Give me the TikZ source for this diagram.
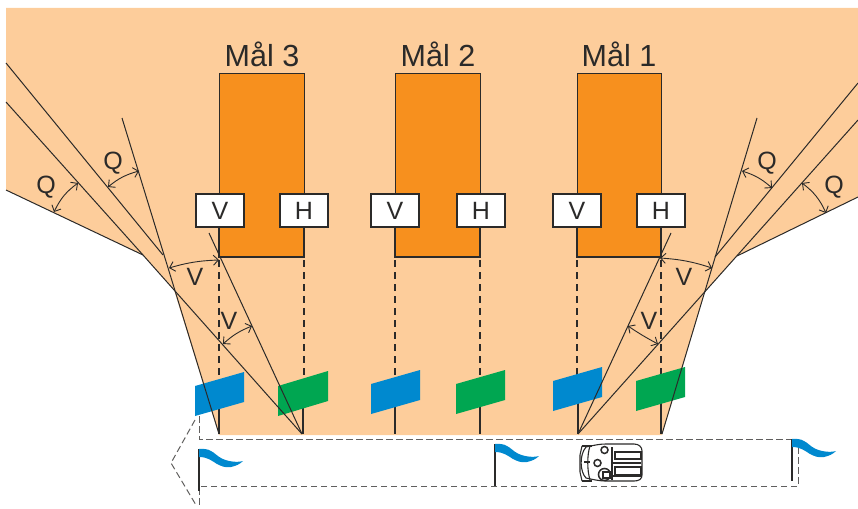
\documentclass[tikz,border=0pt]{standalone}
\usepackage{fontspec}
\setmainfont{Liberation Sans}
\usetikzlibrary{arrows.meta}
\definecolor{peach}{HTML}{FDCD9B}
\definecolor{orng}{HTML}{F7901E}
\definecolor{blu}{HTML}{0089CF}
\definecolor{grn}{HTML}{00A651}
\definecolor{ink}{HTML}{2B2A29}
\tikzset{
  x=1pt,y=-1pt,
  goal/.style={draw=ink,line width=1.4pt,fill=orng},
  tagbox/.style={draw=ink,line width=1.4pt,fill=white,minimum width=48pt,minimum height=33pt,inner sep=0pt,text=ink,font=\fontsize{25}{25}\selectfont},
  title/.style={text=ink,inner sep=0pt,font=\fontsize{30.5}{30.5}\selectfont},
  letter/.style={text=ink,inner sep=0pt,font=\fontsize{25}{25}\selectfont},
  ray/.style={draw=ink,line width=1pt},
  angle/.style={draw=ink,line width=0.9pt,{Straight Barb[length=5pt,width=10pt]}-{Straight Barb[length=5pt,width=10pt]}},
  post/.style={draw=ink,line width=2.6pt},
  guide/.style={draw=ink,line width=1.4pt,dash pattern=on 7pt off 5pt},
  track/.style={draw=ink!75,line width=1pt,dash pattern=on 6.5pt off 3.5pt},
  pole/.style={draw=ink,line width=1.3pt},
  car/.style={draw=ink,line width=1.1pt},
}
\newcommand{\pennant}[2]{%
  \fill[blu,shift={(#1,#2)}] (0,0) .. controls (4,-0.5) and (9,0) .. (12,2)
    .. controls (16,4) and (18,7) .. (22,9)
    .. controls (27,12) and (37,14) .. (44,12)
    .. controls (41,15) and (37,17) .. (32,18)
    .. controls (26,19) and (22,17) .. (18,15)
    .. controls (13,12) and (9,8) .. (0,8) -- cycle;}
\begin{document}
\begin{tikzpicture}
\useasboundingbox (0,0) rectangle (858,508);
% field
\fill[peach] (6,8) -- (858,8) -- (858,197) -- (737,256) -- (705,291.5) -- (662,435) -- (219,435) -- (174,290) -- (143,255) -- (6,190) -- cycle;
% coordinates
\coordinate (lb) at (219,434);
\coordinate (lg) at (302,434);
\coordinate (rb) at (578,434);
\coordinate (rg) at (662,434);
\coordinate (a1) at (6,63);   \coordinate (a2) at (163,255);
\coordinate (b1) at (6,102);
\coordinate (c1) at (122,118);
\coordinate (d1) at (209,233);
\coordinate (e0) at (6,190);  \coordinate (e1) at (143,255);
\coordinate (ra1) at (858,83);  \coordinate (ra2) at (715,257);
\coordinate (rb1) at (858,120);
\coordinate (rc1) at (757,118);
\coordinate (rd1) at (671,233);
\coordinate (re0) at (858,197); \coordinate (re1) at (737,256);
% goals
\node[goal,minimum width=85pt,minimum height=184pt,inner sep=0pt,anchor=north west] (g3) at (219,73) {};
\node[goal,minimum width=85pt,minimum height=184pt,inner sep=0pt,anchor=north west] (g2) at (395,73) {};
\node[goal,minimum width=84pt,minimum height=184pt,inner sep=0pt,anchor=north west] (g1) at (577,73) {};
\draw[post] (219,227) -- (219,257) -- (304,257) -- (304,227);
\draw[post] (395,227) -- (395,257) -- (480,257) -- (480,227);
\draw[post] (577,227) -- (577,257) -- (661,257) -- (661,227);
\node[title] (t3) at (262,54) {Mål 3};
\node[title] (t2) at (438,54) {Mål 2};
\node[title] (t1) at (619,54) {Mål 1};
\node[tagbox] (v3) at (220,210.5) {V};
\node[tagbox] (h3) at (304,210.5) {H};
\node[tagbox] (v2) at (395,210.5) {V};
\node[tagbox] (h2) at (481,210.5) {H};
\node[tagbox] (v1) at (577,210.5) {V};
\node[tagbox] (h1) at (661,210.5) {H};
% guides
\foreach \x in {219,304,395,480,577,661} \draw[guide] (\x,260) -- (\x,385);
\foreach \x in {219,303,395,480,578,661} \draw[post] (\x,400) -- (\x,434);
% flags
\fill[blu] (195,386) -- (244,372) -- (244,402) -- (195,416) -- cycle;
\fill[grn] (278,386) -- (328,371) -- (328,401) -- (278,416) -- cycle;
\fill[blu] (371,384) -- (420,370) -- (420,400) -- (371,414) -- cycle;
\fill[grn] (456,384) -- (505,370) -- (505,400) -- (456,414) -- cycle;
\fill[blu] (553,381) -- (602,367) -- (602,397) -- (553,411) -- cycle;
\fill[grn] (636,381) -- (685,367) -- (685,397) -- (636,411) -- cycle;
% rays
\draw[ray] (e0) -- (e1) -- (lg);
\draw[ray] (a1) -- (a2);
\draw[ray] (b1) -- (e1);
\draw[ray] (c1) -- (lb);
\draw[ray] (d1) -- (lg);
\draw[ray] (re0) -- (re1);
\draw[ray] (ra1) -- (ra2);
\draw[ray] (rb1) -- (rb);
\draw[ray] (rc1) -- (rg);
\draw[ray] (rd1) -- (rb);
% angle arrows
\draw[angle] (54,212) to[bend left=14] (78,183);
\draw[angle] (108,187) to[bend left=12] (139,171);
\draw[angle] (169,268) to[bend left=7] (219,260);
\draw[angle] (223,344) to[bend left=10] (252,326);
\draw[angle] (742,171) to[bend left=12] (772,188);
\draw[angle] (802,183) to[bend left=14] (826,213);
\draw[angle] (660,258) to[bend left=7] (712,268);
\draw[angle] (628,326) to[bend right=3] (658,344);
% letters
\node[letter] (q1) at (46,187) {Q};
\node[letter] (q2) at (113,163) {Q};
\node[letter] (q3) at (767,163) {Q};
\node[letter] (q4) at (834,187) {Q};
\node[letter] (a1l) at (195,277) {V};
\node[letter] (a2l) at (229,321) {V};
\node[letter] (a3l) at (684,277) {V};
\node[letter] (a4l) at (649,321) {V};
% track
\draw[track] (199,416) -- (199,439) -- (798,439) -- (798,486) -- (199,486) -- (199,508);
\draw[track] (195,420) -- (171,463) -- (196,505);
% pennants
\draw[pole] (199,449) -- (199,491);
\draw[pole] (495,444) -- (495,486);
\draw[pole] (792,439) -- (792,481);
\pennant{199}{449}
\pennant{495}{444}
\pennant{792}{439}
% vehicle
\fill[white] (581,446) -- (642,445) -- (642,481) -- (581,481) -- cycle;
\draw[car] (586,447) .. controls (595,445) and (600,444) .. (606,444) -- (634,444)
  .. controls (639,444) and (642,447) .. (642,451) -- (642,475)
  .. controls (642,479) and (639,481) .. (634,481) -- (606,481)
  .. controls (600,481) and (595,480) .. (586,478)
  .. controls (580,472) and (579,455) .. (586,447) -- cycle;
\draw[car] (582,446) -- (592,446) (582,481) -- (592,481);
\draw[car] (582,446) -- (580,455) -- (580,472) -- (582,481);
\draw[car] (590,446) .. controls (587,455) and (587,470) .. (590,480);
\draw[car] (584,462) -- (590,462);
\draw[car] (612,447) -- (612,480);
\draw[car] (615,452) rectangle (641,459);
\draw[car] (615,467) rectangle (641,475);
\draw[car] (613,463) -- (641,463) (613,476) -- (641,476);
\draw[car,line width=1.5pt] (604.5,450) circle (3.5);
\draw[car,line width=1.5pt] (597.5,463) circle (3.5);
\draw[car,fill=white,line width=1.5pt] (604.5,474.5) circle (6);
\draw[car] (603,472) rectangle (610,478);
\end{tikzpicture}
\end{document}
